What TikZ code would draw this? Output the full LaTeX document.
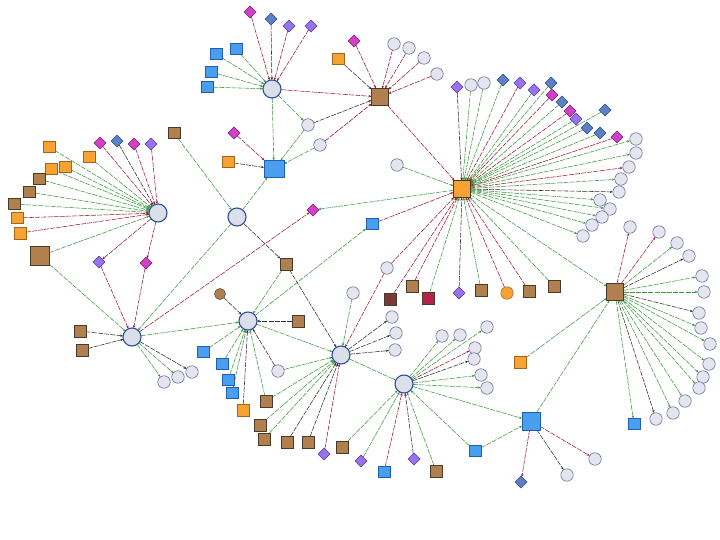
\documentclass[tikz,border=0pt]{standalone}
\usetikzlibrary{shapes.geometric,arrows.meta,backgrounds}
\definecolor{hubf}{HTML}{DCDFEA}\definecolor{hubb}{HTML}{2F4F9F}
\definecolor{lcf}{HTML}{E4E5EE}\definecolor{lcb}{HTML}{5A5F8F}
\definecolor{magf}{HTML}{D23FC8}\definecolor{magb}{HTML}{7A1F70}
\definecolor{purf}{HTML}{9A72F0}\definecolor{purb}{HTML}{4A3FA0}
\definecolor{stlf}{HTML}{5B80C8}\definecolor{stlb}{HTML}{2F4F80}
\definecolor{bluf}{HTML}{4A9EF0}\definecolor{blub}{HTML}{1F5FB0}
\definecolor{orgf}{HTML}{F7A232}\definecolor{orgb}{HTML}{A0661A}
\definecolor{brnf}{HTML}{B0804E}\definecolor{brnb}{HTML}{4A3A2A}
\definecolor{dbrf}{HTML}{7A3838}\definecolor{crmf}{HTML}{B8204E}
\definecolor{egc}{HTML}{3C9A3C}\definecolor{erc}{HTML}{A01838}\definecolor{ekc}{HTML}{303030}
\begin{document}
\begin{tikzpicture}[x=1pt,y=-1pt,
  every node/.style={inner sep=0pt,outer sep=0pt},
  hub/.style={circle,draw=hubb,fill=hubf,line width=1.1pt,minimum size=18pt},
  lc/.style={circle,draw=lcb,fill=lcf,line width=0.5pt,minimum size=12.5pt},
  dm/.style={diamond,draw=magb,fill=magf,line width=0.5pt,minimum size=12pt},
  dp/.style={diamond,draw=purb,fill=purf,line width=0.5pt,minimum size=12pt},
  ds/.style={diamond,draw=stlb,fill=stlf,line width=0.5pt,minimum size=12pt},
  sb/.style={rectangle,draw=blub,fill=bluf,line width=0.5pt,minimum width=12pt,minimum height=11pt},
  so/.style={rectangle,draw=orgb,fill=orgf,line width=0.5pt,minimum size=11.5pt},
  sbr/.style={rectangle,draw=brnb,fill=brnf,line width=0.5pt,minimum size=11.5pt},
  sdb/.style={rectangle,draw=brnb,fill=dbrf,line width=0.5pt,minimum size=11.5pt},
  scr/.style={rectangle,draw=brnb,fill=crmf,line width=0.5pt,minimum size=11.5pt},
  oc/.style={circle,draw=orgb,fill=orgf,line width=0.5pt,minimum size=12.5pt},
  bc/.style={circle,draw=brnb,fill=brnf,line width=0.5pt,minimum size=11pt},
  bigbr/.style={rectangle,draw=brnb,fill=brnf,line width=1pt,minimum size=17pt},
  bigor/.style={rectangle,draw=brnb,fill=orgf,line width=1pt,minimum size=17pt},
  bigbl/.style={rectangle,draw=blub,fill=bluf,line width=1pt,minimum width=20pt,minimum height=17pt},
  edge/.style={line width=0.55pt,dash pattern=on 5pt off 1.2pt,-{Stealth[length=3pt,width=2.4pt]}},
  eg/.style={edge,draw=egc},
  er/.style={edge,draw=erc},
  ek/.style={edge,draw=ekc}]
\useasboundingbox (0,0) rectangle (720,540);
% hubs
\node[hub] (A) at (272,89) {};
\node[bigbr] (B) at (380,97) {};
\node[bigor] (C) at (462,189) {};
\node[hub] (D) at (158,213) {};
\node[hub] (E) at (237,217) {};
\node[bigbl] (F) at (274,169) {};
\node[hub] (G) at (132,337) {};
\node[hub] (H) at (248,321) {};
\node[hub] (I) at (341,355) {};
\node[hub] (J) at (404,384) {};
\node[bigbr] (K) at (615,292) {};
\node[bigbl,minimum width=18pt,minimum height=18pt] (L) at (531,421) {};
\node[bigbr,minimum size=19pt] (M) at (40,256) {};
% leaves
\foreach \n/\x/\y/\s in {
 a1/250/12/dm, a2/271/19/ds, a3/289/26/dp, a4/311/26/dp, a5/216/54/sb, a6/236/49/sb, a7/211/72/sb, a8/207/87/sb,
 b1/354/41/dm, b2/338/59/so, b3/394/44/lc, b4/409/48/lc, b5/424/58/lc, b6/437/74/lc, c1/308/125/lc, c2/320/145/lc,
 f1/228/162/so, f2/234/133/dm,
 q1/457/87/dp, q2/471/85/lc, q3/484/83/lc, q4/503/80/ds, q5/520/83/dp, q6/534/90/dp, q7/551/83/ds, q8/552/95/dm,
 q9/562/102/ds, q10/570/111/dm, q11/576/119/dp, q12/587/128/ds, q13/600/133/ds, q14/605/110/ds, q15/617/137/dm,
 r1/636/139/lc, r2/636/153/lc, r3/629/167/lc, r4/621/179/lc, r5/619/192/lc, r6/600/200/lc, r7/610/209/lc, r8/602/217/lc, r9/592/225/lc, r10/583/236/lc,
 s1/397/165/lc, s2/372/224/sb, s3/387/268/lc, s4/353/293/lc, s5/412/286/sbr, s6/390/299/sdb, s7/428/298/scr, s8/459/293/dp,
 s9/481/290/sbr, s10/507/293/oc, s11/529/291/sbr, s12/554/286/sbr,
 ed/313/210/dm,
 d1/49/147/so, d2/89/157/so, d3/51/169/so, d4/65/167/so, d5/39/179/sbr, d6/29/192/sbr, d7/14/204/sbr, d8/17/218/so, d9/20/233/so,
 dd1/100/143/dm, dd2/117/141/ds, dd3/134/144/dm, dd4/151/144/dp, dd5/99/262/dp, dd6/146/263/dm,
 e1/174/133/sbr,
 g1/80/331/sbr, g2/82/350/sbr, g3/164/382/lc, g4/178/377/lc, g5/192/372/lc,
 h1/220/294/bc, h2/298/321/sbr, h3/203/352/sb, h4/222/364/sb, h5/228/380/sb, h6/232/393/sb, h7/243/410/so, h8/278/371/lc, h9/266/401/sbr, hb/286/264/sbr,
 i2/392/317/lc, i3/396/333/lc, i4/395/350/lc, i5/260/425/sbr, i6/264/439/sbr, i7/287/442/sbr, i8/308/442/sbr, i9/324/454/dp, i10/342/447/sbr,
 j1/442/336/lc, j2/460/335/lc, j3/487/327/lc, j4/475/348/lc, j5/474/359/lc, j6/481/375/lc, j7/487/388/lc,
 j8/361/461/dp, j9/384/472/sb, j10/414/459/dp, j11/436/471/sbr, j12/475/451/sb,
 k1/630/227/lc, k2/659/232/lc, k3/677/243/lc, k4/689/256/lc, k5/702/276/lc, k6/704/292/lc, k7/699/313/lc, k8/701/328/lc,
 k9/710/344/lc, k10/709/364/lc, k11/703/377/lc, k12/699/388/lc, k13/685/401/lc, k14/673/413/lc, k15/656/419/lc, k16/634/424/sb, ko/520/362/so,
 l1/521/482/ds, l2/567/475/lc, l3/595/459/lc}
 \node[style=\s] (\n) at (\x,\y) {};
% edges
\begin{pgfonlayer}{background}
\fill[white] (0,0) rectangle (720,540);
\foreach \a/\b/\s in {
 a1/A/er, a2/A/ek, a3/A/er, a4/A/er, a5/A/eg, a6/A/eg, a7/A/eg, a8/A/eg, A/B/er, A/F/eg, A/c1/eg,
 b1/B/er, b2/B/ek, b3/B/er, b4/B/er, b5/B/er, b6/B/er, B/C/er, c1/B/ek, c2/B/er, c1/F/eg, c2/F/eg,
 f1/F/ek, f2/F/er, E/F/eg,
 q1/C/ek, q2/C/eg, q3/C/eg, q4/C/eg, q5/C/er, q6/C/eg, q7/C/eg, q8/C/er, q9/C/eg, q10/C/er, q11/C/eg, q12/C/eg, q13/C/eg, q14/C/eg, q15/C/er,
 C/r1/eg, C/r2/eg, C/r3/er, C/r4/eg, C/r5/ek, C/r6/eg, C/r7/eg, C/r8/eg, C/r9/eg, C/r10/eg,
 s1/C/eg, s2/C/er, s3/C/er, s5/C/er, s6/C/er, s7/C/eg, s8/C/ek, s9/C/eg, s10/C/er, s11/C/er, s12/C/eg, C/K/eg, C/ed/eg,
 s3/I/er,
 d1/D/eg, d2/D/eg, d3/D/eg, d4/D/eg, d5/D/eg, d6/D/eg, d7/D/eg, d8/D/er, d9/D/er,
 dd1/D/er, dd2/D/ek, dd3/D/er, dd4/D/er, D/dd5/er, D/dd6/er, dd5/G/er, dd6/G/er, M/D/eg,
 e1/E/eg, E/G/eg, E/hb/ek,
 g1/G/ek, g2/G/ek, G/g3/eg, G/g4/eg, G/g5/ek, G/H/eg, M/G/eg, G/ed/er,
 h1/H/ek, h2/H/ek, h3/H/eg, h4/H/eg, h5/H/eg, h6/H/eg, h7/H/ek, h8/H/ek, h9/H/eg, hb/H/eg, H/s2/eg, H/I/eg,
 s4/I/eg, I/i2/ek, I/i3/ek, I/i4/ek, i5/I/eg, i6/I/eg, i7/I/ek, i8/I/ek, i9/I/er, hb/I/ek, h8/I/eg, I/J/eg, h9/I/eg,
 J/j1/eg, J/j2/eg, J/j3/eg, J/j4/er, J/j5/ek, J/j6/eg, J/j7/eg, j8/J/eg, j9/J/er, j10/J/ek, j11/J/eg, i10/J/eg, j12/J/eg, J/L/eg,
 K/k1/er, K/k2/er, K/k3/eg, K/k4/ek, K/k5/eg, K/k6/eg, K/k7/ek, K/k8/eg, K/k9/eg, K/k10/eg, K/k11/eg, K/k12/eg, K/k13/eg, K/k14/eg, K/k15/ek, K/k16/eg, ko/K/eg, L/K/eg,
 L/l1/er, L/l2/ek, L/l3/er, j12/L/eg}
 \draw[style=\s] (\a) -- (\b);
\end{pgfonlayer}
\end{tikzpicture}
\end{document}
